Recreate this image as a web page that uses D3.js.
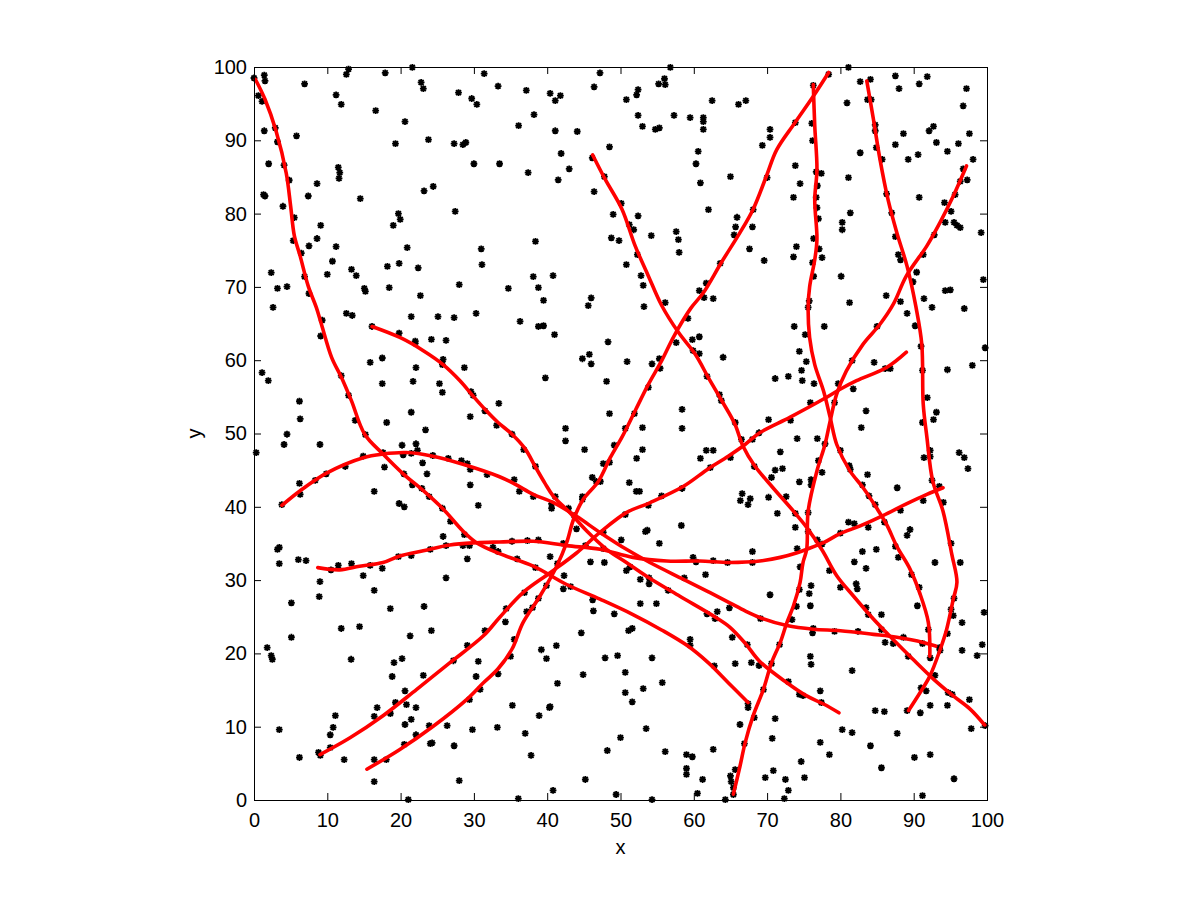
<!DOCTYPE html>
<html>
<head>
<meta charset="utf-8">
<script src="https://cdn.jsdelivr.net/npm/d3@7"></script>
<style>
  body { margin: 0; background: #fff; }
  svg { display: block; }
  .tick text { font-family: "Liberation Sans", Arial, sans-serif; font-size: 20px; fill: #000; }
  .lbl { font-family: "Liberation Sans", Arial, sans-serif; font-size: 20px; fill: #000; }
</style>
</head>
<body>
<div id="chart"></div>
<script>
// scattered points (black asterisks)
const stars = [
  [0.0,98.5],[1.4,98.9],[1.5,98.1],[6.9,97.7],[12.9,99.7],[12.6,99.0],[17.9,99.2],[21.6,99.96],[31.4,99.1],[33.3,97.4],
  [22.8,97.9],[23.1,97.05],[27.9,96.5],[29.7,95.7],[30.4,94.9],[11.2,96.2],[11.9,94.9],[16.6,94.05],[20.6,92.55],[0.6,96.1],
  [1.1,95.3],[2.9,91.7],[1.4,91.3],[5.8,90.6],[3.2,89.8],[19.3,89.55],[23.8,90.1],[27.3,89.55],[28.5,89.4],[28.9,89.7],
  [2.0,86.8],[4.1,86.6],[11.5,86.3],[11.7,85.6],[11.6,84.8],[30.0,86.8],[33.5,86.8],[4.8,84.55],[8.6,84.1],[24.45,83.7],
  [23.2,83.1],[1.3,82.6],[1.5,82.4],[7.4,82.4],[14.5,82.05],[3.95,81.0],[27.45,80.3],[19.7,80.0],[19.95,79.2],[19.0,78.4],
  [5.5,79.45],[9.1,78.4],[5.35,76.3],[8.6,76.6],[7.5,75.6],[11.2,75.5],[20.9,75.35],[31.0,75.2],[6.45,74.6],[10.7,73.5],
  [18.2,72.8],[19.8,73.2],[22.4,72.6],[31.1,73.05],[2.35,71.95],[10.0,71.7],[13.3,72.4],[13.95,71.55],[6.9,71.4],[3.2,69.8],
  [4.5,70.05],[7.5,69.1],[15.05,69.8],[15.2,69.4],[18.45,69.9],[22.7,68.8],[28.0,70.3],[2.6,67.2],
  [37.15,96.8],[40.4,96.4],[41.1,95.4],[41.8,96.1],[47.2,99.2],[46.4,97.3],[56.8,99.96],[55.2,97.7],[56.0,98.4],[56.1,97.6],
  [50.8,95.55],[52.2,96.2],[52.4,96.9],[62.5,95.4],[66.1,94.9],[38.2,93.5],[36.1,92.0],[41.1,91.3],[44.1,91.2],[52.4,93.4],
  [53.0,91.9],[54.75,91.5],[55.3,91.7],[57.3,93.4],[59.5,93.1],[61.3,93.1],[61.3,92.55],[61.3,91.5],[48.5,89.1],[41.9,88.2],
  [46.15,87.6],[60.6,88.5],[60.3,86.8],[60.9,84.2],[65.0,85.05],[37.4,85.6],[43.0,86.1],[41.5,84.6],[46.4,83.0],[47.8,85.05],
  [50.1,81.4],[49.0,79.9],[52.4,79.7],[51.2,78.5],[51.8,77.8],[48.75,76.7],[49.8,76.3],[54.2,77.0],[57.6,77.55],[57.9,76.45],
  [58.0,74.7],[62.0,80.55],[65.9,79.5],[65.7,78.2],[65.5,77.1],[38.4,76.2],[50.8,73.05],[52.3,74.4],[38.1,71.4],[38.8,69.9],
  [40.8,71.55],[34.7,69.8],[39.5,68.15],[46.0,68.5],[45.6,67.45],[52.8,71.55],[53.1,70.2],[53.2,67.3],[56.1,67.85],[60.75,69.5],
  [61.4,68.55],[62.65,68.4],[63.6,73.2],[61.7,70.5],
  [67.1,95.4],[78.4,99.0],[81.1,99.96],[82.7,98.0],[84.1,98.3],[87.5,98.8],[88.0,97.05],[90.75,97.7],[91.85,98.7],[97.2,97.05],
  [96.75,94.7],[76.3,97.5],[80.9,95.1],[83.7,95.55],[84.2,95.55],[73.85,92.4],[76.1,92.3],[70.4,91.5],[70.4,90.4],[69.35,89.3],
  [76.2,89.95],[84.75,92.1],[84.75,91.3],[88.6,90.9],[92.1,91.3],[92.7,91.9],[97.6,90.9],[87.5,89.4],[93.1,89.7],[96.1,89.55],
  [84.9,89.0],[82.7,88.3],[85.7,87.4],[89.25,87.4],[90.6,88.05],[94.6,88.5],[98.1,87.4],[73.85,86.55],[76.7,85.7],[77.4,85.5],
  [70.0,84.9],[74.5,84.1],[81.1,84.9],[96.75,86.1],[97.3,84.6],[96.35,84.4],[76.85,83.8],[73.6,82.2],[76.7,82.2],[76.8,80.8],
  [86.3,82.7],[90.75,82.2],[94.2,81.5],[95.1,80.3],[95.65,82.6],[68.1,80.55],[81.35,80.1],[87.0,80.1],[77.0,79.3],[68.0,78.2],
  [80.25,78.8],[80.25,77.8],[94.3,78.8],[95.5,78.8],[95.9,78.4],[96.35,78.1],[99.2,77.4],[92.8,77.1],[87.5,76.85],[67.6,75.2],
  [69.6,73.6],[73.6,74.1],[74.0,75.5],[76.35,76.6],[77.1,75.2],[77.5,74.0],[76.2,73.3],[87.9,74.4],[88.2,73.7],[91.3,74.4],
  [90.4,72.0],[89.9,70.7],[80.1,71.45],[76.35,71.45],[99.5,71.0],[94.3,69.5],[95.0,69.6],[86.25,68.8],[88.2,68.0],[91.4,68.4],
  [92.5,67.2],[96.9,67.05],[81.25,67.85],[75.75,68.1],[75.6,67.2],
  [9.3,65.45],[9.1,63.3],[12.6,66.4],[13.4,66.1],[16.1,64.6],[21.45,65.95],[25.1,65.95],[27.3,65.8],[30.3,66.4],[19.8,63.7],
  [22.0,62.6],[22.0,62.3],[24.2,62.85],[26.2,62.7],[17.5,60.3],[15.85,59.7],[25.8,60.1],[25.7,59.4],[28.7,59.0],[22.1,59.0],
  [1.1,58.3],[1.95,57.2],[11.9,57.9],[17.5,56.8],[21.7,57.1],[25.3,56.8],[25.7,55.6],[12.9,55.2],[6.2,54.4],[6.3,52.0],
  [29.6,55.7],[29.9,55.2],[21.45,52.9],[13.8,51.8],[18.1,51.5],[31.5,53.1],[29.5,52.3],[33.4,54.1],[33.1,51.1],[23.4,50.5],
  [4.5,49.9],[4.1,48.5],[0.3,47.4],[9.0,48.5],[15.2,49.85],[20.2,48.4],[22.1,48.6],[22.3,47.7],[17.6,47.4],[17.8,45.4],
  [14.9,46.9],[20.35,47.1],[21.45,47.3],[23.0,46.0],[23.6,44.5],[24.4,47.0],[26.5,46.6],[28.3,46.3],[29.1,45.9],[29.5,45.1],
  [12.45,45.5],[9.85,44.5],[8.35,43.6],[6.2,43.2],[6.3,41.7],[20.45,44.5],[21.6,43.0],[22.9,42.5],[23.9,41.4],[16.4,42.1],
  [29.5,43.0],[31.8,44.4],[30.6,40.2],[3.8,40.3],[19.8,40.45],[20.5,40.0],[25.7,39.8],[26.8,38.0],[28.7,36.2],[25.8,35.95],
  [26.2,34.7],[3.2,34.2],[3.45,34.45],[32.6,34.45],[24.05,34.2],[28.5,34.7],[29.4,34.7],
  [36.3,65.3],[38.8,64.6],[39.5,64.7],[41.0,63.5],[48.3,62.5],[44.8,60.2],[45.75,60.8],[46.0,59.5],[50.9,59.8],[54.3,59.5],
  [55.3,60.2],[55.4,58.9],[57.6,62.4],[59.2,65.7],[59.8,62.8],[60.75,63.2],[59.9,61.3],[60.75,60.9],[64.0,60.4],[39.75,57.6],
  [48.1,57.1],[53.8,56.3],[61.8,57.8],[48.5,52.7],[51.9,52.7],[58.4,53.3],[58.4,50.7],[63.5,55.3],[63.75,54.5],[65.65,51.5],
  [66.5,49.2],[35.2,49.9],[36.8,47.8],[42.5,50.7],[42.5,49.0],[45.1,47.8],[53.0,50.8],[53.0,47.8],[52.2,46.6],[50.65,50.7],
  [49.15,48.4],[38.4,45.5],[47.65,45.9],[48.5,46.05],[46.15,44.0],[46.7,43.45],[47.25,43.45],[51.2,43.3],[52.15,42.1],[52.6,42.1],
  [61.7,47.7],[62.65,47.7],[60.9,46.6],[62.25,45.35],[65.0,46.7],[66.6,41.8],[66.35,40.85],[58.4,42.5],[55.6,41.5],[53.8,40.2],
  [50.65,38.95],[58.3,37.45],[53.4,36.6],[53.65,36.8],[55.3,35.0],[50.1,35.5],[35.5,43.7],[36.2,42.1],[38.1,41.4],[41.1,41.4],
  [40.6,39.8],[40.6,40.4],[44.8,41.4],[44.8,41.0],[42.9,39.8],[43.7,38.8],[44.0,37.0],[47.65,36.5],[35.2,35.3],[37.3,35.4],
  [38.8,35.5],[42.2,35.0],[45.2,34.7],[47.65,34.3],[33.3,33.9],
  [89.1,66.4],[73.7,64.6],[77.8,64.6],[85.0,64.6],[90.2,64.7],[75.2,63.5],[74.4,61.2],[75.35,59.8],[91.0,61.9],[99.75,61.7],
  [98.0,59.3],[94.6,58.7],[81.6,59.95],[84.6,59.7],[86.1,58.85],[86.8,58.85],[91.2,58.6],[71.1,57.5],[72.9,57.8],[74.7,58.6],
  [74.8,57.2],[76.4,56.8],[79.7,56.8],[81.75,56.1],[75.9,54.2],[79.2,54.2],[83.5,53.1],[82.85,50.8],[91.85,54.9],[93.1,52.9],
  [92.7,51.9],[91.2,51.5],[70.2,51.9],[73.2,51.8],[68.9,50.1],[68.0,49.2],[74.1,49.3],[76.85,49.3],[77.9,48.6],[71.8,47.5],
  [91.4,46.7],[92.25,47.7],[92.25,46.85],[96.2,47.4],[96.9,46.7],[97.4,45.2],[80.0,47.7],[77.0,46.3],[68.25,45.5],[71.1,45.0],
  [72.1,45.2],[70.6,44.0],[77.5,44.7],[81.2,45.6],[81.35,45.1],[83.7,44.4],[74.4,43.4],[76.0,43.7],[76.0,43.0],[83.0,43.0],
  [87.75,42.6],[92.5,43.6],[93.5,42.8],[67.7,41.1],[67.4,40.3],[70.2,41.3],[72.6,41.4],[83.9,41.5],[84.75,40.3],[91.3,40.85],
  [94.05,40.6],[71.4,39.1],[73.85,39.1],[75.6,39.2],[81.1,37.9],[81.9,37.7],[83.8,37.2],[86.0,37.9],[88.2,39.5],[89.5,36.9],
  [89.1,36.1],[73.85,37.2],[75.6,36.6],[80.0,36.4],[76.85,35.5],[77.5,34.9],[74.1,34.3],[68.0,33.9],[83.0,33.9],[84.9,34.2],
  [87.5,34.6],[95.1,35.0],
  [3.45,32.25],[6.05,32.8],[7.1,32.65],[10.5,31.4],[11.5,32.0],[13.3,32.25],[15.85,32.0],[17.5,31.6],[14.9,30.6],[19.7,33.2],
  [21.45,33.35],[29.1,32.9],[26.2,30.3],[9.0,29.8],[8.9,27.75],[5.1,26.9],[16.4,28.6],[18.6,26.1],[23.2,26.4],[11.9,23.4],
  [14.4,23.65],[24.2,23.1],[5.1,22.2],[21.3,22.4],[1.8,20.8],[2.35,19.7],[2.5,19.2],[13.25,19.2],[20.2,19.3],[19.1,18.75],
  [18.85,16.85],[23.1,17.0],[27.2,19.0],[29.1,21.1],[31.5,23.1],[30.6,18.9],[30.3,16.85],[30.85,15.1],[29.4,13.7],[33.3,17.2],
  [20.6,14.9],[19.3,13.3],[20.8,13.0],[22.1,12.6],[16.8,12.6],[16.4,11.4],[18.6,11.8],[11.1,11.5],[10.8,9.9],[10.4,8.9],
  [3.45,9.6],[21.45,11.0],[20.6,10.3],[23.9,10.15],[26.35,10.15],[29.8,9.6],[33.2,9.9],[22.1,8.9],[24.05,7.7],[24.3,7.8],
  [20.5,7.6],[10.4,7.15],[8.8,6.5],[9.05,6.1],[6.2,5.8],[12.3,5.5],[16.4,5.5],[18.05,5.5],[27.3,7.4],[16.4,2.5],
  [28.0,2.65],[21.05,0.05],
  [35.9,32.9],[40.4,33.2],[38.4,31.7],[41.4,32.25],[42.3,30.6],[39.9,29.25],[42.2,28.8],[43.2,29.1],[38.8,27.5],[36.9,28.3],
  [34.4,26.1],[34.3,24.3],[38.0,26.25],[37.2,25.7],[45.9,32.5],[47.8,32.4],[46.2,27.3],[46.3,25.8],[49.15,25.4],[50.8,31.3],
  [51.3,31.8],[52.7,30.1],[53.9,30.3],[53.9,29.5],[52.7,26.8],[54.9,26.8],[51.1,23.1],[51.6,23.4],[44.65,22.8],[56.5,28.6],
  [58.7,30.3],[61.6,30.75],[59.9,33.1],[60.3,32.5],[62.65,32.65],[64.6,32.4],[61.8,25.4],[63.2,25.7],[62.9,24.75],[64.85,26.2],
  [65.25,22.2],[59.5,21.9],[59.5,21.1],[62.8,18.3],[65.65,18.6],[35.5,21.9],[35.0,19.6],[39.2,20.5],[39.9,19.3],[41.25,21.05],
  [47.9,19.4],[49.6,19.7],[54.3,19.4],[50.65,17.4],[44.9,17.1],[41.4,15.9],[50.65,14.65],[51.6,13.4],[53.1,15.2],[55.7,16.0],
  [35.25,12.9],[40.3,12.6],[40.4,12.75],[38.9,11.5],[37.0,9.1],[37.8,6.1],[50.0,8.5],[48.2,6.75],[53.5,9.75],[56.1,6.6],
  [59.0,6.2],[59.8,5.9],[62.65,6.9],[66.3,10.3],[59.0,4.3],[59.0,3.5],[61.2,2.8],[65.0,3.3],[65.1,2.5],[65.65,4.15],
  [65.4,1.7],[65.4,0.75],[64.3,0.05],[60.5,0.9],[45.2,2.8],[40.8,1.3],[49.4,0.75],[54.3,0.05],[36.06,0.2],
  [68.0,32.4],[81.9,32.5],[83.5,31.6],[78.5,31.3],[74.5,31.8],[92.9,32.4],[96.35,32.4],[87.9,33.1],[89.7,30.75],[90.75,29.0],
  [90.5,26.5],[82.15,29.5],[82.3,28.8],[80.0,29.0],[76.0,29.25],[75.75,28.15],[74.4,28.7],[75.9,26.5],[74.0,26.4],[70.4,28.0],
  [95.5,27.5],[95.1,26.0],[95.4,25.15],[99.6,25.6],[96.6,24.2],[83.5,26.25],[83.8,25.3],[85.6,25.3],[73.4,24.6],[69.1,24.75],
  [76.3,23.4],[76.2,22.8],[79.2,23.0],[82.4,23.0],[85.6,23.25],[86.1,21.5],[87.2,21.35],[88.6,22.2],[92.0,23.25],[91.2,21.35],
  [92.25,19.4],[93.5,20.8],[93.6,20.4],[94.6,22.7],[99.35,21.2],[98.65,19.7],[96.6,20.4],[89.25,19.6],[67.3,21.2],[71.7,21.2],
  [67.85,18.75],[68.9,18.35],[70.6,18.6],[75.9,19.6],[76.0,18.5],[81.6,17.65],[92.9,17.0],[91.0,15.3],[91.7,14.9],[94.7,14.65],
  [95.25,14.4],[97.6,13.7],[92.25,12.9],[94.6,12.9],[90.9,11.9],[89.1,12.2],[84.75,12.2],[86.0,12.05],[72.9,16.15],[69.5,15.05],
  [74.4,14.4],[74.9,14.25],[77.25,14.9],[77.4,13.3],[67.4,13.15],[67.4,12.6],[68.25,11.25],[71.1,11.1],[70.7,8.4],[66.9,7.7],
  [80.25,9.6],[81.6,9.2],[87.75,9.1],[97.85,9.75],[99.75,10.15],[77.25,7.85],[78.5,6.2],[84.1,7.4],[90.1,5.8],[92.25,6.2],
  [85.6,4.4],[74.65,5.25],[70.85,4.0],[69.75,3.05],[72.5,2.8],[75.1,3.05],[72.9,1.3],[72.35,0.2],[95.5,2.9],[91.2,0.6]
];

// red tracks
const curveA = [[0.2,98.3],[1.5,95.6],[3.0,91.3],[4.4,85.5],[5.0,81],[5.5,77],[6.3,74.2],[7.4,70.1],[8.5,67.2],[9.2,64.9],
  [10.6,60.35],[11.95,57.6],[13.3,54.45],[15.1,49.9],[17.6,47.2],[20.35,44.5],[23.1,42.2],[25.8,39.7],[28.5,36.7],[30.35,35.1],
  [33.5,33.6],[38.1,31.9],[42.65,29.4],[47.2,27.4],[51.7,25.3],[55.6,23.2],[59.2,21.0],[62,18.7],
  [64.7,16.0],[67.4,13.3]];
const curveB = [[16.1,64.6],[19.9,63.1],[23.1,61.3],[25.8,59.4],[28.1,57.2],[29.9,55.1],[31.7,53.1],[33.3,51.5],[35.2,49.9],
  [37,47.9],[38.3,45.6],[39.7,43.2],[40.8,41.5],[43.1,39.2],[45.4,36.7],[48.1,34.2],[50.8,32.4],[53.6,30.5],[58.1,27.8],
  [62.7,25.1],[64.9,23.6],[67,21.4],[69,18.9],[72.7,16],[75.4,14.2],[77.7,13.1],[79.8,11.9]];
const curveC = [[3.8,40.2],[6.3,42.2],[9.9,44.6],[14.9,46.7],[17.6,47.2],[20.8,47.4],[24.4,46.9],[28.5,45.8],[33.5,44.1],
  [35.6,43.1],[38.1,41.7],[40.8,40.6],[44,38.7],[47.2,36.5],[50.8,34.2],[54,32.4],[58.6,30.1],[62,28.4],[64.9,26.9],
  [67,25.8],[69,24.9],[72.7,23.8],[76.3,23.3],[80,23.1],[84.5,22.6],[87.7,22.2],[91.3,21.5],[93,21.0]];
const curveD = [[83.6,98.1],[84.5,92.9],[85.4,87.4],[86.5,81.9],[87.7,77.4],[89.1,72.8],[90.3,67.3],[91.1,62.2],[91.3,54],
  [91.8,49.5],[92.6,43.5],[94,39.4],[95.2,33.5],[95.9,29.7],[95.4,27.4],[94.5,23.3],[93.6,20.5],[92.2,16.9],[90.9,14.7],[89.3,12.2]];
const curveE = [[76.3,97.6],[76.5,92],[76.8,86],[76.5,81.9],[76.8,76.5],[76.5,73.7],[75.8,70],[75.6,67.2],[75.8,63.1],
  [76.5,59.4],[77.7,55.8],[78.6,52.2],[79.5,48.5],[81.3,44.9],[83.1,42.6],[84.9,39.9],[86.3,37.6],[87.7,34.6],[89.5,31.5],
  [90.8,28.3],[92,24.2],[92.2,19.6]];
const curveF = [[15.4,4.2],[19.9,6.9],[24.5,10.1],[29,13.7],[31.3,16],[33.3,17.9],[35.2,20.6],[36.7,24.2],[39,27.8],[41.3,31.9],
  [42.65,35.1],[43.6,38.3],[44.9,41],[47,43.5],[48.6,46.7],[50.2,49.5],[52,53.1],[53.8,56.7],[55.6,59.9],[57.3,63.3],[59.6,67.1],
  [61.3,69.2],[63.8,73.4],[66.3,77.4],[68.1,80.6],[69.9,85.1],[71.3,88.7],[73.8,92.4],[76.3,96],[78.4,99.25]];
const curveG = [[9,6.2],[13.1,8.5],[17.6,11.5],[22.2,15.1],[26.7,18.7],[31.3,22.4],[33.5,24.9],[36.7,28.3],
  [40.4,31],[44,33.7],[47.2,36.5],[50.8,39.2],[54,40.55],[58.6,42.8],[62,45.2],[64.7,46.9],[67,48.5],[69,50.1],
  [73.1,52.2],[77.7,54.7],[79.9,56.0],[82.2,57.2],[86.3,59],[89,61.1]];
const curveH = [[46.2,88.0],[47.9,84.7],[50.2,80.6],[52,75.6],[53.8,71.5],[55.6,67.5],[57.9,63.8],[60.2,60.8],[62,57.6],
  [63.8,54.5],[65.6,51.3],[66.7,48.3],[68.3,45.6],[70.8,42.6],[73.6,39.4],[75.4,37.2],[77.5,34.1],[79.5,30.6],[81.8,27.8],
  [84.5,24.7],[87.2,21.9],[89.9,19.2],[92.7,16.5],[95.4,14.2],[97.7,12.4],[99.7,10.2]];
const curveJ = [[8.7,31.7],[11.7,31.4],[14.4,31.9],[17.6,32.4],[19.9,33.3],[23.1,34.0],[26.7,34.8],[30.35,35.1],[33.5,35.2],
  [38.1,35.3],[42.65,34.7],[47.2,34.2],[51.7,33.1],[56.3,32.6],[60.8,32.6],[64.9,32.4],[69,32.6],
  [71.8,33.1],[74,33.7],[75.4,34.2],[77.7,35.1],[79.9,36.3],[82.7,37.4],[85.8,38.8],[89,40.4],[91.8,41.7],[94,42.6]];
const curveK = [[65.4,0.8],[66.3,4.6],[67,7.8],[68.1,11.5],[69.5,15.1],[70.6,18.7],[71.8,21.5],[72.7,24.2],[73.6,26.5],
  [74.5,29.7],[74.9,32.4],[75.4,34.2],[75.6,39.4],[76.8,44.9],[77.9,48.5],[78.6,51.7],[79.5,55.4],[80.8,58.5],[83.1,62.2],
  [85.4,64.9],[87.2,67.6],[89,71.5],[91.8,75.6],[93.6,78.8],[95.4,82.4],[97.2,86.5]];
const curves = [curveA, curveB, curveC, curveD, curveE, curveF, curveG, curveH, curveJ, curveK];

const ticks = [0, 10, 20, 30, 40, 50, 60, 70, 80, 90, 100];

const width = 1201, height = 901;
const box = { left: 254, top: 67, right: 987, bottom: 800 };

const svg = d3.select('#chart').append('svg')
  .attr('width', width)
  .attr('height', height);

const x = d3.scaleLinear().domain([0, 100]).range([box.left, box.right]);
const y = d3.scaleLinear().domain([0, 100]).range([box.bottom, box.top]);

// points
const r = 3.4, a = 2.5;
const starPath = `M${-r},0H${r}M0,${-r}V${r}M${-a},${-a}L${a},${a}M${-a},${a}L${a},${-a}`;
svg.append('g')
  .selectAll('path')
  .data(stars)
  .join('path')
  .attr('transform', d => `translate(${x(d[0])},${y(d[1])})`)
  .attr('d', starPath)
  .attr('stroke', '#000')
  .attr('stroke-width', 1.8)
  .attr('fill', 'none');

// tracks
const line = d3.line()
  .x(d => x(d[0]))
  .y(d => y(d[1]))
  .curve(d3.curveCatmullRom.alpha(0.5));

svg.append('g')
  .selectAll('path')
  .data(curves)
  .join('path')
  .attr('d', line)
  .attr('fill', 'none')
  .attr('stroke', '#ff0000')
  .attr('stroke-width', 3.6)
  .attr('stroke-linejoin', 'round')
  .attr('stroke-linecap', 'round');

// axes, MATLAB style: ticks point inward on all four sides
const tk = 7;
function styleAxis(g) {
  g.select('.domain').remove();
  g.selectAll('.tick line').attr('stroke', '#000');
}
svg.append('g').attr('transform', `translate(0,${box.bottom})`)
  .call(d3.axisBottom(x).tickValues(ticks).tickSizeInner(-tk).tickSizeOuter(0).tickPadding(12.5))
  .call(styleAxis);
svg.append('g').attr('transform', `translate(${box.left},0)`)
  .call(d3.axisLeft(y).tickValues(ticks).tickSizeInner(-tk).tickSizeOuter(0).tickPadding(7))
  .call(styleAxis);
svg.append('g').attr('transform', `translate(0,${box.top})`)
  .call(d3.axisTop(x).tickValues(ticks).tickSizeInner(-tk).tickSizeOuter(0).tickFormat(''))
  .call(styleAxis);
svg.append('g').attr('transform', `translate(${box.right},0)`)
  .call(d3.axisRight(y).tickValues(ticks).tickSizeInner(-tk).tickSizeOuter(0).tickFormat(''))
  .call(styleAxis);
svg.selectAll('.tick text').attr('font-family', null).attr('font-size', null);

svg.append('rect')
  .attr('x', box.left + 0.5).attr('y', box.top + 0.5)
  .attr('width', box.right - box.left).attr('height', box.bottom - box.top)
  .attr('fill', 'none').attr('stroke', '#000').attr('stroke-width', 1);

svg.append('text').attr('class', 'lbl')
  .attr('x', (box.left + box.right) / 2).attr('y', 854)
  .attr('text-anchor', 'middle').text('x');
svg.append('text').attr('class', 'lbl')
  .attr('transform', `translate(201,${(box.top + box.bottom) / 2}) rotate(-90)`)
  .attr('text-anchor', 'middle').text('y');
</script>
</body>
</html>
